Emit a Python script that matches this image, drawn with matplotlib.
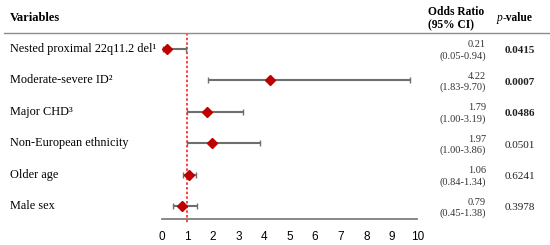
import matplotlib.pyplot as plt
import matplotlib.transforms as mtransforms
from matplotlib.lines import Line2D

# data
variables = ["Nested proximal 22q11.2 del\u00b9", "Moderate-severe ID\u00b2", "Major CHD\u00b3",
             "Non-European ethnicity", "Older age", "Male sex"]
odds = [0.21, 4.22, 1.79, 1.97, 1.06, 0.79]
ci_low = [0.05, 1.83, 1.00, 1.00, 0.84, 0.45]
ci_high = [0.94, 9.70, 3.19, 3.86, 1.34, 1.38]
pvals = ["0.0415", "0.0007", "0.0486", "0.0501", "0.6241", "0.3978"]
significant = [True, True, True, False, False, False]
xticks = list(range(0, 11))

serif = "Liberation Serif"
W, H = 550, 245

fig = plt.figure(figsize=(5.5, 2.45), dpi=100)
ax = fig.add_axes([161.5 / W, (H - 218.7) / H, 256 / W, (218.7 - 33) / H])

ypos = list(range(len(variables)))
xerr = [[o - l for o, l in zip(odds, ci_low)], [h - o for o, h in zip(odds, ci_high)]]
ax.plot([1, 1], [-0.5, 5.55], color="#ff2020", lw=1.2, ls=(0, (1.5, 1.3)), zorder=1,
        clip_on=False)
ax.errorbar(odds, ypos, xerr=xerr, fmt="none", ecolor="#6e6e6e", elinewidth=1.5,
            capsize=2.2, capthick=1, zorder=2)
ax.plot(odds, ypos, "D", color="#c00000", ms=5, zorder=3)

ax.set_xlim(0, 10)
ax.set_ylim(5.4, -0.5)
ax.set_yticks([])
ax.set_xticks(xticks)
ax.tick_params(axis="x", length=0, pad=9, labelsize=8.5)
for lab in ax.get_xticklabels():
    lab.set_fontfamily("Liberation Sans")
for s in ["top", "right", "left"]:
    ax.spines[s].set_visible(False)
ax.spines["bottom"].set_color("#7f7f7f")
ax.spines["bottom"].set_linewidth(1.3)

# header
fig.text(10 / W, 1 - 18 / H, "Variables", family=serif, weight="bold", fontsize=9, va="center")
fig.text(428 / W, 1 - 12 / H, "Odds Ratio", family=serif, weight="bold", fontsize=8.3, va="center")
fig.text(428 / W, 1 - 25 / H, "(95% CI)", family=serif, weight="bold", fontsize=8.3, va="center")
fig.text(497 / W, 1 - 18 / H, "p", family=serif, style="italic", fontsize=8.3, va="center")
fig.text(502.5 / W, 1 - 18 / H, "-value", family=serif, weight="bold", fontsize=8.3, va="center")
fig.add_artist(Line2D([4 / W, 1], [1 - 33 / H, 1 - 33 / H], color="#8c8c8c", lw=1,
                      transform=fig.transFigure))

trans = mtransforms.blended_transform_factory(fig.transFigure, ax.transData)
for i, name in enumerate(variables):
    ax.text(10 / W, i, name, transform=trans, family=serif, fontsize=8.8, va="center",
            clip_on=False)
    ax.text(486 / W, i - 0.13, f"{odds[i]:.2f}", transform=trans, family=serif,
            fontsize=7.5, ha="right", va="center", color="#333333", clip_on=False)
    ax.text(486 / W, i + 0.23, f"({ci_low[i]:.2f}-{ci_high[i]:.2f})", transform=trans,
            family=serif, fontsize=7.5, ha="right", va="center", color="#333333", clip_on=False)
    ax.text(520 / W, i + 0.06, pvals[i], transform=trans, family=serif, fontsize=8,
            ha="center", va="center", weight="bold" if significant[i] else "normal",
            color="#222222", clip_on=False)

fig.savefig("out.png", dpi=100)
